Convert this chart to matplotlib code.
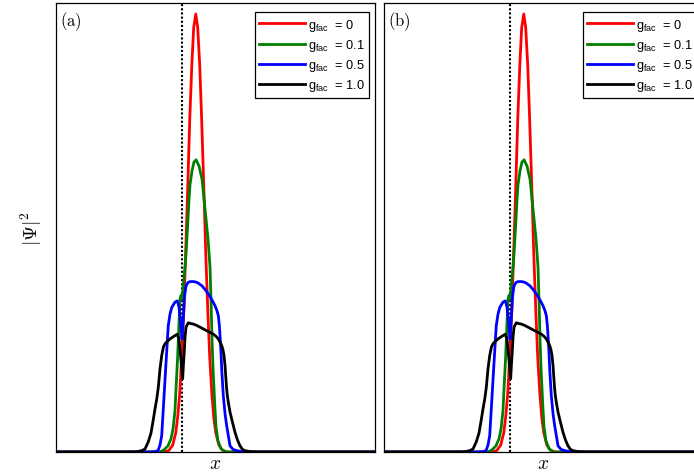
import matplotlib
matplotlib.use("Agg")
import matplotlib.pyplot as plt
from matplotlib.font_manager import FontProperties

plt.rcParams['mathtext.fontset'] = 'custom'
plt.rcParams['mathtext.rm'] = 'Liberation Sans'
plt.rcParams['mathtext.it'] = 'Liberation Sans:italic'

# ---- data (x in units where the dotted line is at 0) ----
x_red = [-8.0, -1.14, -0.83, -0.58, -0.39, -0.27, -0.14, -0.02, 0.11, 0.23, 0.36, 0.48,
         0.61, 0.73, 0.86, 0.98, 1.11, 1.23, 1.36, 1.48, 1.61, 1.73, 1.86, 1.98, 2.11,
         2.30, 2.55, 2.86, 12.1]
y_red = [0.0, 0.0, 0.003, 0.016, 0.044, 0.080, 0.135, 0.217, 0.324, 0.457, 0.607, 0.756,
         0.881, 0.969, 1.0, 0.969, 0.881, 0.756, 0.607, 0.457, 0.324, 0.217, 0.135, 0.080,
         0.044, 0.016, 0.003, 0.0, 0.0]

x_green = [-8.0, -1.38, -1.125, -0.875, -0.69, -0.56, -0.44, -0.375, -0.28, -0.19, -0.125,
           -0.06, 0.0, 0.06, 0.125, 0.19, 0.25, 0.31, 0.375, 0.44, 0.5, 0.625, 0.75, 0.875,
           1.06, 1.25, 1.375, 1.5, 1.625, 1.75, 1.81, 1.875, 1.94, 2.0, 2.06, 2.125, 2.25,
           2.44, 2.75, 12.1]
y_green = [0.0, 0.0, 0.005, 0.014, 0.030, 0.053, 0.094, 0.144, 0.212, 0.292, 0.349,
           0.358, 0.349, 0.372, 0.400, 0.422, 0.452, 0.491, 0.532, 0.578, 0.610, 0.642, 0.662,
           0.667, 0.653, 0.623, 0.578, 0.532, 0.486, 0.422, 0.349, 0.258, 0.189, 0.144, 0.098,
           0.057, 0.025, 0.007, 0.0, 0.0]

x_blue = [-8.0, -2.0, -1.69, -1.5, -1.375, -1.27, -1.17, -1.06, -0.96, -0.86, -0.75, -0.64,
          -0.44, -0.29, -0.19, -0.09, 0.0, 0.08, 0.16, 0.25, 0.375, 0.5, 0.75, 0.94, 1.23,
          1.44, 1.64, 1.875, 2.06, 2.19, 2.27, 2.33, 2.375, 2.44, 2.48, 2.58, 2.69, 2.79,
          2.91, 3.0, 3.19, 3.42, 3.94, 12.1]
y_blue = [0.0, 0.0, 0.001, 0.003, 0.016, 0.037, 0.098, 0.167, 0.228, 0.288, 0.315, 0.330,
          0.342, 0.345, 0.331, 0.299, 0.258, 0.304, 0.356, 0.379, 0.387, 0.389, 0.389, 0.387,
          0.380, 0.371, 0.361, 0.347, 0.334, 0.322, 0.311, 0.290, 0.266, 0.224, 0.189, 0.129,
          0.087, 0.060, 0.034, 0.014, 0.006, 0.003, 0.0, 0.0]

x_black = [-8.0, -2.94, -2.52, -2.31, -2.11, -1.94, -1.79, -1.69, -1.58, -1.48, -1.375,
           -1.27, -1.16, -1.06, -0.91, -0.75, -0.56, -0.375, -0.29, -0.19, -0.125, -0.02,
           0.04, 0.09, 0.14, 0.19, 0.25, 0.39, 0.56, 0.71, 0.91, 1.125, 1.33, 1.54, 1.75,
           1.96, 2.125, 2.27, 2.39, 2.48, 2.56, 2.625, 2.69, 2.73, 2.78, 2.83, 2.91, 3.0,
           3.16, 3.31, 3.47, 3.625, 3.78, 3.94, 4.25, 4.75, 12.1]
y_black = [0.0, 0.0, 0.003, 0.007, 0.023, 0.043, 0.075, 0.098, 0.121, 0.148, 0.190,
           0.220, 0.240, 0.247, 0.253, 0.258, 0.263, 0.267, 0.269, 0.258, 0.235, 0.190,
           0.167, 0.201, 0.228, 0.263, 0.285, 0.295, 0.293, 0.292, 0.289, 0.285, 0.281, 0.277,
           0.273, 0.269, 0.264, 0.258, 0.250, 0.243, 0.233, 0.220, 0.196, 0.174, 0.148,
           0.129, 0.110, 0.091, 0.067, 0.045, 0.027, 0.014, 0.006, 0.003, 0.001, 0.0, 0.0]

series = [
    (x_red, y_red, '#ff0000', r'g$_{\mathrm{fac}}$  = 0'),
    (x_green, y_green, '#008000', r'g$_{\mathrm{fac}}$  = 0.1'),
    (x_blue, y_blue, '#0000ff', r'g$_{\mathrm{fac}}$  = 0.5'),
    (x_black, y_black, '#000000', r'g$_{\mathrm{fac}}$  = 1.0'),
]
panel_labels = ['(a)', '(b)']
x_center = 0.0
xlim = (-7.875, 12.06)
ylim = (0.0, 1.025)

fig = plt.figure(figsize=(6.94, 4.77), dpi=100)
W, H = 694.0, 477.0
positions = [[56 / W, 24 / H, 319 / W, 449 / H],
             [384 / W, 24 / H, 319 / W, 449 / H]]

legend_prop = FontProperties(family='Liberation Sans', size=9.2, math_fontfamily='custom')

for pos, plabel in zip(positions, panel_labels):
    ax = fig.add_axes(pos)
    ax.axvline(x_center, color='black', lw=1.5, linestyle=(0, (1, 1)), zorder=1)
    for xs, ys, c, lab in series:
        ax.plot(xs, ys, color=c, lw=2.0, label=lab, zorder=2)
    ax.set_xlim(*xlim)
    ax.set_ylim(*ylim)
    ax.set_xticks([])
    ax.set_yticks([])
    for sp in ax.spines.values():
        sp.set_linewidth(0.9)
    ax.set_xlabel('$x$', fontsize=14, math_fontfamily='cm', labelpad=1)
    ax.text(0.012, 0.985, r'$\mathrm{' + plabel + '}$', transform=ax.transAxes,
            ha='left', va='top', fontsize=12, math_fontfamily='cm')
    leg = ax.legend(loc='upper right', bbox_to_anchor=(0.981, 0.979), borderaxespad=0,
                    prop=legend_prop, fancybox=False, framealpha=1, edgecolor='black',
                    handlelength=3.6, handletextpad=0.2, labelspacing=0.32,
                    borderpad=0.35)
    leg.get_frame().set_linewidth(0.9)
    if plabel == '(a)':
        ax.set_ylabel(r'$|\Psi|^2$', fontsize=14, math_fontfamily='cm', labelpad=9)

fig.savefig('out.png', dpi=100)
